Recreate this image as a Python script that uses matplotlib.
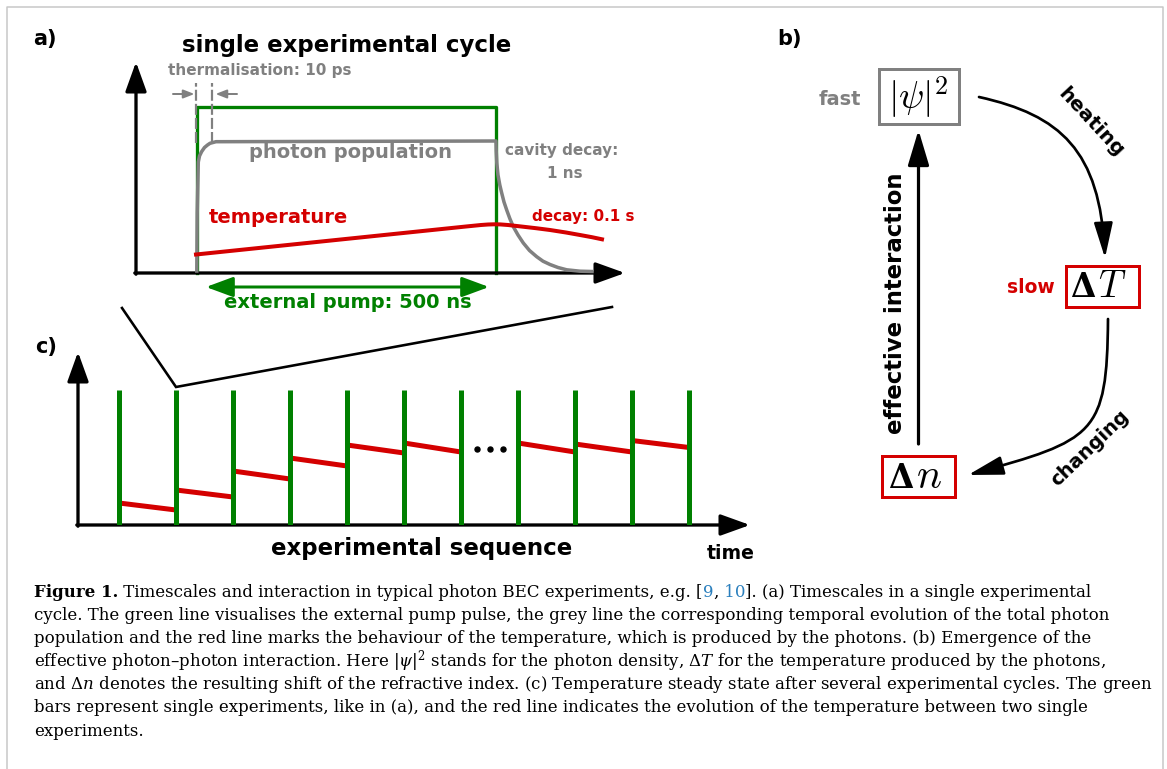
import numpy as np
import matplotlib
matplotlib.use("Agg")
import matplotlib.pyplot as plt
from matplotlib.patches import FancyArrowPatch, ArrowStyle, Rectangle
from matplotlib.path import Path
from matplotlib.lines import Line2D

W, H = 1167, 769
GREEN = "#008000"
RED = "#d40000"
GREY = "#808080"
LINK = "#2a7fbd"
PX = 0.72  # pixels -> points at dpi 100

# panel a: one experimental cycle (arbitrary units)
pump_on, pump_off = 61, 360
pump_level = 166
photon_t = [60.8, 61.2, 62.3, 63.5, 65.7, 68.5, 71.5, 74, 80, 360,
            360.2, 360.8, 362, 363.8, 365.7, 368, 370.7, 373.8, 377.3, 382,
            387.3, 393.5, 400.7, 407, 414, 422, 430.7, 444, 456]
photon_n = [2, 60, 111, 117, 121.5, 125.5, 128, 129.7, 131.3, 132,
            122, 110, 98, 88, 80, 71, 63, 54.5, 46.3, 38,
            30, 22.5, 16.3, 11.8, 8.5, 5.5, 3.2, 1.8, 1.5]
temp_t = [60, 330, 345, 352, 358, 364, 372, 387, 400, 414, 430, 444, 456, 466]
temp_T = [18.5, 46.5, 48, 48.5, 48.7, 48.6, 48, 46.3, 44.8, 43, 40.5, 38, 35.8, 33.7]
therm_t = [60, 76]
therm_range = [130, 190]

# panel c: sequence of cycles
cycle_t = [41, 98, 155, 212, 269, 326, 383, 440, 497, 554, 611]
cycle_top = 135
T_start = [22, 35, 54, 67, 80, 82, np.nan, 82, 81, 84.5]
T_end = [15, 28, 46, 59, 72, 73, np.nan, 73, 73, 77.5]
dots_level = 76

caption = [
    "cycle. The green line visualises the external pump pulse, the grey line the corresponding temporal evolution of the total photon",
    "population and the red line marks the behaviour of the temperature, which is produced by the photons. (b) Emergence of the",
    r"effective photon–photon interaction. Here $|\psi|^2$ stands for the photon density, $\Delta T$ for the temperature produced by the photons,",
    r"and $\Delta n$ denotes the resulting shift of the refractive index. (c) Temperature steady state after several experimental cycles. The green",
    "bars represent single experiments, like in (a), and the red line indicates the evolution of the temperature between two single",
    "experiments.",
]

fig = plt.figure(figsize=(W / 100, H / 100), dpi=100)

ov = fig.add_axes([0, 0, 1, 1])
ov.set_xlim(0, W)
ov.set_ylim(H, 0)
ov.axis("off")


def pixel_axes(left, bottom, right, top):
    ax = fig.add_axes([left / W, 1 - bottom / H, (right - left) / W, (bottom - top) / H])
    ax.set_xlim(0, right - left)
    ax.set_ylim(0, bottom - top)
    ax.axis("off")
    return ax


def arrow(ax, a, b, lw, color, hl, hw, style="-|>", path=None, z=3):
    st = ArrowStyle(style, head_length=hl * PX, head_width=hw * PX)
    if path is not None:
        p = FancyArrowPatch(path=path, arrowstyle=st, mutation_scale=1,
                            lw=lw * PX, color=color, zorder=z)
    else:
        p = FancyArrowPatch(a, b, arrowstyle=st, mutation_scale=1, shrinkA=0, shrinkB=0,
                            lw=lw * PX, color=color, zorder=z)
    p.set_clip_on(False)
    ax.add_patch(p)


def label(x, y, s, size, color="black", ha="center", **kw):
    ov.text(x, y, s, fontsize=size, color=color, ha=ha, va="baseline",
            fontweight="bold", family="DejaVu Sans", **kw)


# frame
ov.plot([7, 7, 1163, 1163], [H, 7, 7, H], color="#c8c8c8", lw=1.1)

# ---------------- panel a ----------------
axa = pixel_axes(136, 273, 625, 62)
arrow(axa, (-1.2, 0), (489, 0), 3.3, "black", 25, 9)
arrow(axa, (0, -1.2), (0, 211), 3.3, "black", 25, 9)
axa.plot([pump_on, pump_on, pump_off, pump_off], [0, pump_level, pump_level, 0],
         color=GREEN, lw=3.3 * PX, clip_on=False, zorder=2)
axa.plot(photon_t, photon_n, color=GREY, lw=3.5 * PX, clip_on=False, zorder=3,
         solid_joinstyle="round")
axa.plot(temp_t, temp_T, color=RED, lw=4 * PX, clip_on=False, zorder=4,
         solid_joinstyle="round")
for t in therm_t:
    axa.plot([t, t], therm_range, color=GREY, lw=2.2 * PX, ls=(0, (5, 1.4)),
             clip_on=False, zorder=5)
arrow(axa, (therm_t[0] - 23, 179), (therm_t[0] - 1.5, 179), 2, GREY, 9, 3.5)
arrow(axa, (therm_t[1] + 25, 179), (therm_t[1] + 3.5, 179), 2, GREY, 9, 3.5)
arrow(axa, (pump_on + 9, -14), (pump_off - 7, -14), 3, GREEN, 23, 8.5, style="<|-|>")

label(33, 45, "a)", 15, ha="left")
label(347, 52, "single experimental cycle", 16.5)
label(259.5, 75, "thermalisation: 10 ps", 11, GREY)
label(350.5, 158, "photon population", 14, GREY)
label(561.5, 155, "cavity decay:", 11, GREY)
label(565, 178.5, "1 ns", 11, GREY)
label(278.5, 223, "temperature", 14, RED)
label(532, 221, "decay: 0.1 s", 11, RED, ha="left")
label(347.5, 308, "external pump: 500 ns", 14, GREEN)

# ---------------- panel c ----------------
axc = pixel_axes(78, 525, 750, 352)
arrow(axc, (-1.2, 0), (672, 0), 3.3, "black", 25, 9)
arrow(axc, (0, -1.2), (0, 173), 3.3, "black", 25, 9)
for i in range(len(cycle_t) - 1):
    axc.plot([cycle_t[i], cycle_t[i + 1]], [T_start[i], T_end[i]], color=RED,
             lw=5 * PX, solid_capstyle="butt", zorder=2)
axc.vlines(cycle_t, 0, cycle_top, color=GREEN, lw=5 * PX, zorder=3)
gap = int(np.where(np.isnan(T_start))[0][0])
mid = (cycle_t[gap] + cycle_t[gap + 1]) / 2
axc.plot([mid - 13, mid, mid + 13], [dots_level] * 3, "o", color="black", ms=5 * PX, zorder=4)

label(35, 353, "c)", 15, ha="left")
label(421.5, 555, "experimental sequence", 16.5)
label(731, 559, "time", 13.6)

# zoom lines from panel a to one cycle in panel c
inv = fig.transFigure.inverted()
pa = axa.transData.transform([(-14, -35), (476, -34)])
pc = axc.transData.transform([(cycle_t[1], cycle_top + 3)])[0]
pts = inv.transform([pa[0], pc, pa[1]])
fig.add_artist(Line2D(pts[:, 0], pts[:, 1], color="black", lw=2.6 * PX,
                      transform=fig.transFigure, solid_joinstyle="miter"))

# ---------------- panel b ----------------
label(777, 45, "b)", 15, ha="left")
ov.add_patch(Rectangle((878.5, 68.5), 80, 55, fill=False, ec=GREY, lw=3 * PX))
ov.add_patch(Rectangle((1065.5, 265.5), 73, 41.5, fill=False, ec=RED, lw=3 * PX))
ov.add_patch(Rectangle((882, 455.5), 73, 41.5, fill=False, ec=RED, lw=3 * PX))
ov.text(918.5, 97, r"$|\psi|^{\mathbf{2}}$", fontsize=27, ha="center", va="center",
        math_fontfamily="cm")
for xd, xs, yb, sym, sz in [(1083, 1097.5, 297, "T", 27), (901, 915.5, 488, "n", 30)]:
    ov.text(xd, yb, "Δ", fontsize=23.5, fontweight="bold", family="DejaVu Serif",
            ha="center", va="baseline")
    ov.text(xs, yb, "$" + sym + "$", fontsize=sz, ha="left", va="baseline",
            math_fontfamily="cm")
label(840, 105, "fast", 14, GREY)
label(1030.5, 293, "slow", 13.5, RED)

arrow(ov, (918.5, 444), (918.5, 130), 3.2, "black", 30, 9)
heat = Path([(979, 97), (1060, 115), (1100, 150), (1105, 258)],
            [Path.MOVETO, Path.CURVE4, Path.CURVE4, Path.CURVE4])
arrow(ov, None, None, 2.7, "black", 30, 8, path=heat)
change = Path([(1108, 319), (1107, 435), (1095, 440), (968, 475)],
              [Path.MOVETO, Path.CURVE4, Path.CURVE4, Path.CURVE4])
arrow(ov, None, None, 2.7, "black", 30, 8, path=change)

ov.text(1091, 122, "heating", fontsize=14.5, fontweight="bold", rotation=-47,
        rotation_mode="anchor", ha="center", va="center")
ov.text(1090, 448, "changing", fontsize=14, fontweight="bold", rotation=44,
        rotation_mode="anchor", ha="center", va="center")
ov.text(896, 303, "effective interaction", fontsize=16.4, fontweight="bold",
        rotation=90, ha="center", va="center")

# ---------------- caption ----------------
renderer = fig.canvas.get_renderer()
probe = ov.text(0, 0, caption[0], fontsize=10, family="DejaVu Serif")
cap_size = 10 * 1080 / probe.get_window_extent(renderer).width
probe.remove()
cap_x, cap_y, cap_dy = 34, 597, 23.1
first = [("Figure 1.", dict(fontweight="bold")),
         (" Timescales and interaction in typical photon BEC experiments, e.g. [", {}),
         ("9", dict(color=LINK)), (",", {}), (" 10", dict(color=LINK)),
         ("]. (a) Timescales in a single experimental", {})]
x = cap_x
for s, kw in first:
    t = ov.text(x, cap_y, s, fontsize=cap_size, family="DejaVu Serif", va="baseline", **kw)
    x += t.get_window_extent(renderer).width
for i, line in enumerate(caption):
    ov.text(cap_x, cap_y + (i + 1) * cap_dy, line, fontsize=cap_size, family="DejaVu Serif",
            va="baseline", math_fontfamily="dejavuserif")

fig.savefig("out.png", dpi=100)
